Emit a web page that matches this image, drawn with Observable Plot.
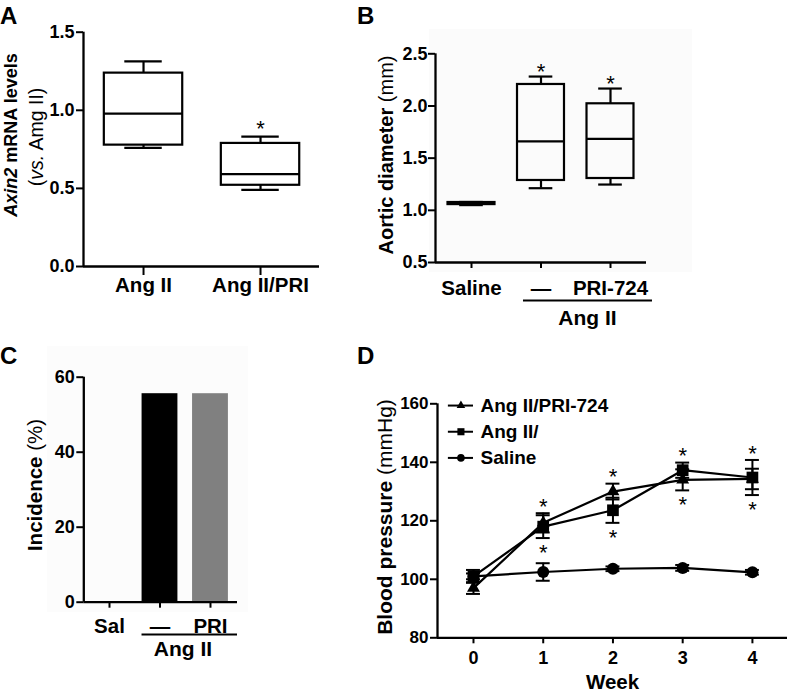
<!DOCTYPE html>
<html><head><meta charset="utf-8">
<script src="https://cdn.jsdelivr.net/npm/d3@7"></script>
<script src="https://cdn.jsdelivr.net/npm/@observablehq/plot@0.6"></script>
<style>
body{margin:0;background:#fff;}
#fig{position:relative;width:787px;height:693px;overflow:hidden;background:#fff;font-family:'Liberation Sans',Arial,sans-serif;color:#000;}
#fig svg{position:absolute;left:0;top:0;}
.ylab{position:absolute;white-space:nowrap;transform:translate(-50%,-50%) rotate(-90deg);line-height:1;font-weight:bold;}
.ylab .n{font-weight:normal;}
.ylab .i{font-style:italic;}
.panel{position:absolute;font-weight:bold;font-size:24px;line-height:1;}
.bg{position:absolute;}
</style></head><body>
<div id="fig">
  <div class="bg" style="left:429px;top:29px;width:263px;height:243px;background:#fbfbfb"></div>
  <div class="bg" style="left:47px;top:346px;width:201px;height:266px;background:#fcfcfc"></div>
  <div class="panel" style="left:0px;top:4px">A</div>
  <div class="panel" style="left:357px;top:4px">B</div>
  <div class="panel" style="left:0px;top:344px">C</div>
  <div class="panel" style="left:357px;top:344px">D</div>
  <div class="ylab" style="left:11px;top:135px;font-size:18px"><span class="i">Axin2</span> mRNA levels</div>
  <div class="ylab" style="left:37px;top:137px;font-size:19.5px"><span class="n">(<span class="i">vs.</span> Amg II)</span></div>
  <div class="ylab" style="left:386px;top:155px;font-size:20px">Aortic diameter <span class="n">(mm)</span></div>
  <div class="ylab" style="left:35px;top:485px;font-size:20.5px">Incidence <span class="n">(%)</span></div>
  <div class="ylab" style="left:384px;top:517px;font-size:21px">Blood pressure <span class="n">(mmHg)</span></div>
</div>
<script>
// ---------- Panel A: Axin2 mRNA (box plots) ----------
const aCats = ["Ang II", "Ang II/PRI"];
const aMin = [0.76, 0.49];
const aQ1 = [0.777, 0.52];
const aMed = [0.979, 0.592];
const aQ3 = [1.238, 0.788];
const aMax = [1.313, 0.832];
const aStar = ["", "*"];
const aTicks = [0, 0.5, 1.0, 1.5];

// ---------- Panel B: Aortic diameter (box plots) ----------
const bCats = ["Saline", "\u2014", "PRI-724"];
const bMin = [1.05, 1.212, 1.247];
const bQ1 = [1.055, 1.286, 1.305];
const bMed = [1.065, 1.66, 1.685];
const bQ3 = [1.075, 2.206, 2.021];
const bMax = [1.08, 2.282, 2.167];
const bStar = ["", "*", "*"];
const bTicks = [0.5, 1.0, 1.5, 2.0, 2.5];

// ---------- Panel C: Incidence (bars) ----------
const cCats = ["Sal", "\u2014", "PRI"];
const cIncidence = [0, 55.6, 55.6];
const cColors = ["#000000", "#000000", "#808080"];
const cTicks = [0, 20, 40, 60];

// ---------- Panel D: Blood pressure (lines) ----------
const weeks = [0, 1, 2, 3, 4];
const triMean = [97, 119.3, 130, 134, 134.3];
const triSem = [2, 3.3, 2.7, 3.6, 3.5];
const sqMean = [101, 118, 123.6, 137.3, 134.8];
const sqSem = [2.2, 3.9, 4.3, 2.6, 6];
const cirMean = [101, 102.5, 103.6, 103.9, 102.4];
const cirSem = [1, 3, 0.8, 1, 0.8];
const starWeeks = [1, 2, 3, 4];
const dTicks = [80, 100, 120, 140, 160];
const groupLabel = "Ang II";

const FONT = "'Liberation Sans', Arial, sans-serif";
const LW = 2.2, AX = 2.3;
const W = 787, H = 693;

function base(o) {
  return Plot.plot({
    width: W, height: H,
    marginLeft: o.l, marginRight: W - o.r, marginTop: o.t, marginBottom: H - o.b,
    x: {...o.x, label: null}, y: {...o.y, label: null},
    style: {background: "transparent", fontFamily: FONT, fontWeight: "bold", color: "#000", overflow: "visible"},
    marks: o.marks
  });
}

function boxMarks(data, hw, cw, starDy) {
  return [
    Plot.ruleX(data, {x: "i", y1: "q3", y2: "max", stroke: "#000", strokeWidth: LW}),
    Plot.ruleX(data, {x: "i", y1: "min", y2: "q1", stroke: "#000", strokeWidth: LW}),
    Plot.ruleY(data, {y: "max", x1: d => d.i - cw, x2: d => d.i + cw, stroke: "#000", strokeWidth: LW}),
    Plot.ruleY(data, {y: "min", x1: d => d.i - cw, x2: d => d.i + cw, stroke: "#000", strokeWidth: LW}),
    Plot.rect(data, {x1: d => d.i - hw, x2: d => d.i + hw, y1: "q1", y2: "q3", fill: "none", stroke: "#000", strokeWidth: LW}),
    Plot.ruleY(data, {y: "med", x1: d => d.i - hw, x2: d => d.i + hw, stroke: "#000", strokeWidth: LW}),
    Plot.text(data, {x: "i", y: "max", text: "star", dy: starDy, fontSize: 22, fontWeight: "normal"})
  ];
}

const fig = document.getElementById("fig");

// Panel A
const aData = aCats.map((c, i) => ({i, min: aMin[i], q1: aQ1[i], med: aMed[i], q3: aQ3[i], max: aMax[i], star: aStar[i]}));
const aX = [-0.513, 1.504];
fig.appendChild(base({
  l: 83, r: 319, t: 31.7, b: 266,
  x: {domain: aX}, y: {domain: [0, 1.5]},
  marks: [
    ...boxMarks(aData, 0.335, 0.16, -8),
    Plot.ruleX([aX[0]], {stroke: "#000", strokeWidth: AX}),
    Plot.ruleY([0], {stroke: "#000", strokeWidth: AX}),
    Plot.axisY({ticks: aTicks, tickFormat: d => d.toFixed(1), tickSize: 7, tickPadding: 2, fontSize: 18, fontWeight: "bold", strokeWidth: 2, label: null}),
    Plot.axisX({ticks: aCats.map((c, i) => i), tickFormat: i => aCats[i], tickSize: 9, tickPadding: 2, fontSize: 20.5, fontWeight: "bold", strokeWidth: 2, label: null})
  ]
}));

// Panel B
const bData = bCats.map((c, i) => ({i, min: bMin[i], q1: bQ1[i], med: bMed[i], q3: bQ3[i], max: bMax[i], star: bStar[i]}));
const bX = [-0.518, 2.518];
fig.appendChild(base({
  l: 435, r: 646, t: 53.3, b: 262,
  x: {domain: bX}, y: {domain: [0.5, 2.5]},
  marks: [
    ...boxMarks(bData, 0.338, 0.17, -5),
    Plot.ruleX([bX[0]], {stroke: "#000", strokeWidth: AX}),
    Plot.ruleY([0.5], {stroke: "#000", strokeWidth: AX}),
    Plot.axisY({ticks: bTicks, tickFormat: d => d.toFixed(1), tickSize: 7, tickPadding: 1, fontSize: 18, fontWeight: "bold", strokeWidth: 2, label: null}),
    Plot.axisX({ticks: bCats.map((c, i) => i), tickFormat: i => bCats[i], tickSize: 6, tickPadding: 12, fontSize: 20.5, fontWeight: "bold", strokeWidth: 2, label: null}),
    Plot.ruleY([0.5], {x1: 0.748, x2: 2.604, dy: 38, stroke: "#000", strokeWidth: 2}),
    Plot.text([groupLabel], {x: 1.669, y: 0.5, text: d => d, dy: 56, fontSize: 21, fontWeight: "bold"})
  ]
}));

// Panel C
const cData = cCats.map((c, i) => ({i, v: cIncidence[i], color: cColors[i]}));
const cX = [-0.509, 2.535];
fig.appendChild(base({
  l: 83.3, r: 237, t: 376.7, b: 601.7,
  x: {domain: cX}, y: {domain: [0, 60]},
  marks: [
    Plot.rect(cData, {x1: d => d.i - 0.355, x2: d => d.i + 0.355, y1: 0, y2: "v", fill: d => d.color}),
    Plot.ruleX([cX[0]], {stroke: "#000", strokeWidth: AX}),
    Plot.ruleY([0], {stroke: "#000", strokeWidth: AX}),
    Plot.axisY({ticks: cTicks, tickSize: 7, tickPadding: 2, fontSize: 18, fontWeight: "bold", strokeWidth: 2, label: null}),
    Plot.axisX({ticks: cCats.map((c, i) => i), tickFormat: i => cCats[i], tickSize: 6, tickPadding: 10, fontSize: 20.5, fontWeight: "bold", strokeWidth: 2, label: null}),
    Plot.ruleY([0], {x1: 0.644, x2: 2.535, dy: 32.3, stroke: "#000", strokeWidth: 2}),
    Plot.text([groupLabel], {x: 1.455, y: 0, text: d => d, dy: 46.6, fontSize: 21, fontWeight: "bold"})
  ]
}));

// Panel D
const series = [
  {name: "Ang II/PRI-724", symbol: "triangle", mean: triMean, sem: triSem, r: 4.8, lr: 3.2},
  {name: "Ang II/", symbol: "square", mean: sqMean, sem: sqSem, r: 6.6, lr: 4},
  {name: "Saline", symbol: "circle", mean: cirMean, sem: cirSem, r: 6, lr: 3.8}
];
const dData = series.flatMap(s => weeks.map((w, j) => ({series: s.name, week: w, mean: s.mean[j], sem: s.sem[j]})));
const starData = starWeeks.map(w => {
  const j = weeks.indexOf(w);
  return {
    week: w,
    top: Math.max(triMean[j] + triSem[j], sqMean[j] + sqSem[j]),
    bottom: Math.min(triMean[j] - triSem[j], sqMean[j] - sqSem[j])
  };
});
const legend = {x1: -0.36, x2: 0.0, xText: 0.10, y0: 159.4, step: 8.95};
const legData = series.map((s, k) => ({...s, ly: legend.y0 - k * legend.step}));
const dX = [-0.516, 4.503];
const CAP = 0.1;
const drawOrder = ["Saline", "Ang II/PRI-724", "Ang II/"];
fig.appendChild(base({
  l: 437, r: 787, t: 403.3, b: 637.3,
  x: {domain: dX}, y: {domain: [80, 160]},
  marks: [
    Plot.line(dData, {x: "week", y: "mean", z: "series", stroke: "#000", strokeWidth: 2.2}),
    Plot.ruleX(dData, {x: "week", y1: d => d.mean - d.sem, y2: d => d.mean + d.sem, stroke: "#000", strokeWidth: 2}),
    Plot.ruleY(dData, {y: d => d.mean + d.sem, x1: d => d.week - CAP, x2: d => d.week + CAP, stroke: "#000", strokeWidth: 2}),
    Plot.ruleY(dData, {y: d => d.mean - d.sem, x1: d => d.week - CAP, x2: d => d.week + CAP, stroke: "#000", strokeWidth: 2}),
    ...drawOrder.map(name => {
      const s = series.find(t => t.name === name);
      return Plot.dot(dData.filter(d => d.series === name), {x: "week", y: "mean", symbol: s.symbol, r: s.r, fill: "#000", stroke: "none"});
    }),
    Plot.text(starData, {x: "week", y: "top", text: () => "*", dy: -6.5, fontSize: 22, fontWeight: "normal"}),
    Plot.text(starData, {x: "week", y: "bottom", text: () => "*", dy: 15, fontSize: 22, fontWeight: "normal"}),
    // legend
    Plot.ruleY(legData, {y: "ly", x1: legend.x1, x2: legend.x2, stroke: "#000", strokeWidth: 2}),
    ...legData.map(s => Plot.dot([s], {x: (legend.x1 + legend.x2) / 2, y: "ly", symbol: s.symbol, r: s.lr, fill: "#000"})),
    Plot.text(legData, {x: legend.xText, y: "ly", text: "name", textAnchor: "start", fontSize: 19, fontWeight: "bold"}),
    // axes
    Plot.ruleX([dX[0]], {stroke: "#000", strokeWidth: AX}),
    Plot.ruleY([80], {stroke: "#000", strokeWidth: AX}),
    Plot.axisY({ticks: dTicks, tickSize: 7, tickPadding: 2, fontSize: 17, fontWeight: "bold", strokeWidth: 2, label: null}),
    Plot.axisX({ticks: weeks, tickFormat: d => String(d), tickSize: 6, tickPadding: 7, fontSize: 18, fontWeight: "bold", strokeWidth: 2, label: null}),
    Plot.text(["Week"], {frameAnchor: "bottom", lineAnchor: "middle", text: d => d, dy: 45, fontSize: 20.5, fontWeight: "bold"})
  ]
}));
</script>
</body></html>
